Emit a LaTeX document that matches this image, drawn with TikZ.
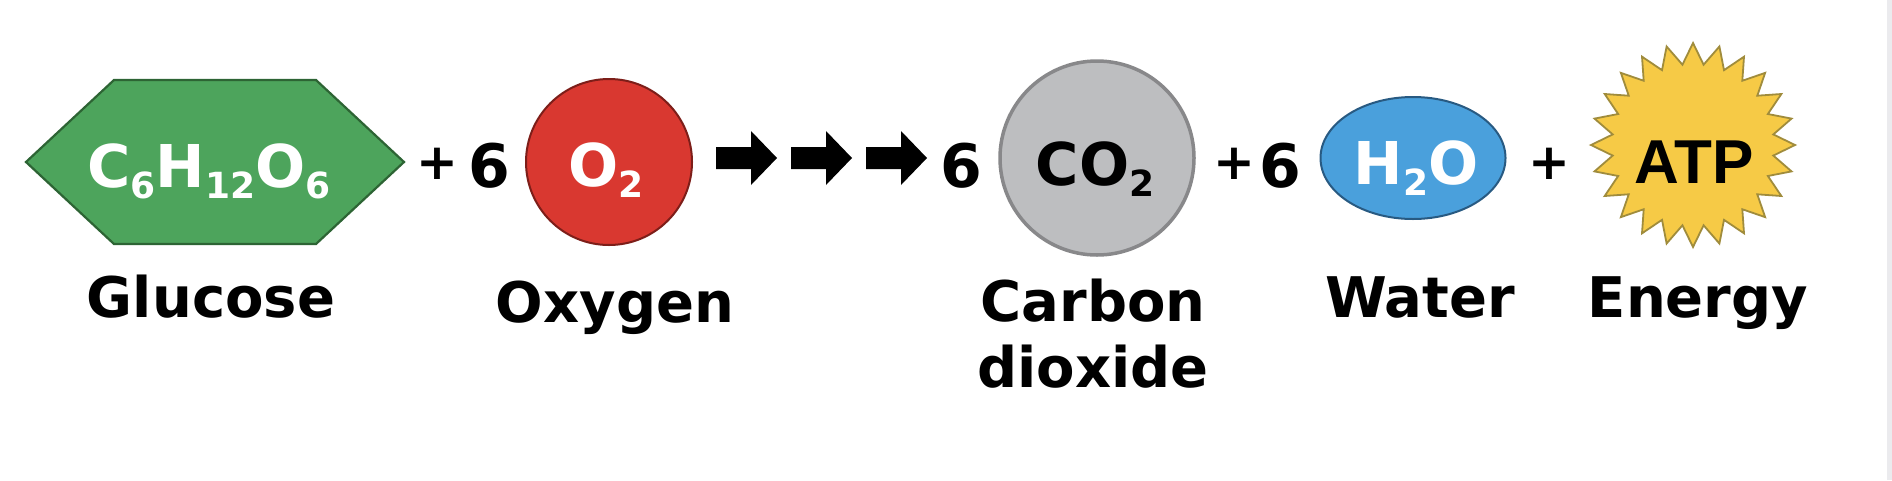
\documentclass[tikz,border=0pt]{standalone}
\usepackage{fontspec}
\setmainfont{DejaVu Sans}
\newfontfamily\atpfont{Liberation Sans}
\usetikzlibrary{shapes.geometric}
\newcommand\setfs[1]{\fontsize{#1}{#1}\selectfont}
\newcommand\chsub[1]{\raisebox{-11pt}{\setfs{36}#1}}
\definecolor{hexfill}{RGB}{77,164,92}
\definecolor{hexborder}{RGB}{45,100,52}
\definecolor{oxfill}{RGB}{217,56,48}
\definecolor{oxborder}{RGB}{125,30,25}
\definecolor{cofill}{RGB}{189,190,192}
\definecolor{coborder}{RGB}{136,136,138}
\definecolor{h2ofill}{RGB}{74,160,220}
\definecolor{h2oborder}{RGB}{40,90,130}
\definecolor{atpfill}{RGB}{246,202,70}
\definecolor{atpborder}{RGB}{160,140,60}
\definecolor{edgegrey}{RGB}{235,235,238}
\begin{document}
\begin{tikzpicture}[x=1pt,y=-1pt,
  formula/.style={inner sep=0pt, anchor=base, font=\bfseries\setfs{59}},
  sign/.style={inner sep=0pt, anchor=base, font=\bfseries\setfs{60}},
  plussign/.style={inner sep=0pt, anchor=center, font=\bfseries\setfs{50}},
  label/.style={inner sep=0pt, anchor=base, font=\bfseries\setfs{56}},
  blockarrow/.pic={\fill[black] (0,-11) -- (35,-11) -- (35,-27) -- (61,0) -- (35,27) -- (35,11) -- (0,11) -- cycle;}
]
\useasboundingbox (0,0) rectangle (1892,480);
\fill[white] (0,0) rectangle (1892,480);
\fill[edgegrey] (1887,0) rectangle (1892,480);

% Glucose hexagon
\coordinate (hexc) at (215,162);
\draw[fill=hexfill, draw=hexborder, line width=2.2pt, line join=miter]
  (26,162) -- (114,80) -- (316,80) -- (404,162) -- (316,244) -- (114,244) -- cycle;
\node[formula, text=white] (glutext) at (209,187) {C\chsub{6}H\chsub{12}O\chsub{6}};
\node[label] (glucose) at (211,317) {Glucose};

% + 6
\node[plussign] (plusa) at (437,164) {+};
\node[sign] (sixa) at (489,187) {6};

% Oxygen
\node[circle, minimum size=166pt, inner sep=0pt, fill=oxfill, draw=oxborder, line width=2pt] (o2) at (609,162) {};
\node[formula, text=white] (o2text) at (606,186) {O\chsub{2}};
\node[label] (oxygen) at (615,322) {Oxygen};

% arrows
\pic at (716,158) {blockarrow};
\pic at (791,158) {blockarrow};
\pic at (866,158) {blockarrow};

\node[sign] (sixb) at (961,187) {6};

% Carbon dioxide
\node[circle, minimum size=194pt, inner sep=0pt, fill=cofill, draw=coborder, line width=3.5pt] (co2) at (1097,158) {};
\node[formula, text=black] (co2text) at (1095,185) {CO\chsub{2}};
\node[label] (carbon) at (1093,321) {Carbon};
\node[label] (dioxide) at (1093,387) {dioxide};

% + 6
\node[plussign] (plusb) at (1234,164) {+};
\node[sign] (sixc) at (1280,187) {6};

% Water
\node[ellipse, minimum width=185pt, minimum height=122pt, inner sep=0pt, fill=h2ofill, draw=h2oborder, line width=2pt] (h2o) at (1413,158) {};
\node[formula, text=white] (h2otext) at (1416,184) {H\chsub{2}O};
\node[label] (water) at (1420,317) {Water};

% +
\node[plussign] (plusc) at (1549,164) {+};

% ATP star
\coordinate (atpc) at (1693,145);
\draw[fill=atpfill, draw=atpborder, line width=1.8pt, shift={(1693,145)}]
  plot[samples at={0,...,47}, variable=\k] ({90+7.5*\k}:{ifthenelse(mod(\k,2)==0,102,81)}) -- cycle;
\node[inner sep=0pt, anchor=base, font=\atpfont\bfseries\setfs{62}] (atptext) at (1694,183) {ATP};
\node[label] (energy) at (1698,317) {Energy};
\end{tikzpicture}
\end{document}
